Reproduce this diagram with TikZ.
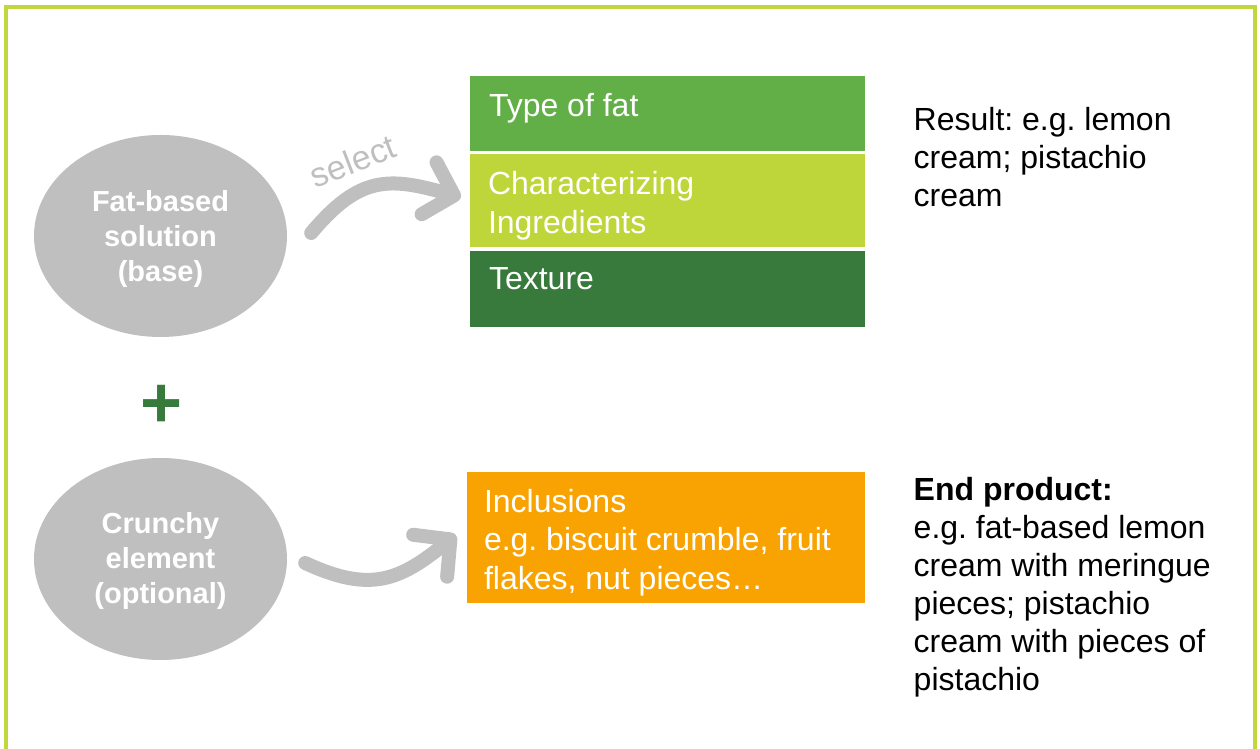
\documentclass[tikz,border=0pt]{standalone}
\usepackage{fontspec}
\setmainfont{Liberation Sans}
\frenchspacing
\usetikzlibrary{arrows.meta,positioning,shapes.geometric}

\definecolor{framegreen}{HTML}{C2D63E}
\definecolor{fatgreen}{HTML}{62AE47}
\definecolor{limegreen}{HTML}{BED63A}
\definecolor{darkgreen}{HTML}{377A3C}
\definecolor{incorange}{HTML}{F8A302}
\definecolor{softgrey}{HTML}{BFBFBF}

\tikzset{
  blob/.style={ellipse, fill=softgrey, minimum width=253pt, minimum height=202pt, inner sep=0pt},
  blobtext/.style={inner sep=0pt, text=white, align=center, font=\fontsize{29}{35}\selectfont\bfseries},
  bar/.style={rectangle, minimum width=395pt, inner sep=0pt},
  bartext/.style={anchor=north west, inner sep=0pt, text=white, align=left,
    font=\fontsize{32}{38.5}\selectfont},
  note/.style={anchor=north west, inner sep=0pt, align=left, font=\fontsize{32}{38}\selectfont},
  flow/.style={draw=softgrey, line width=14pt, line cap=round,
    -{Straight Barb[length=26pt,width=54pt,round]}},
}

\begin{document}
\begin{tikzpicture}[x=1pt,y=1pt]
  \useasboundingbox (0,0) rectangle (1260,749);
  \draw[framegreen, line width=4pt] (6,-20) rectangle (1255,742);

  % left: base and optional element
  \node[blob] (fat) at (160.5,513) {};
  \node[blob] (crunch) at (160.5,190) {};
  \node[blobtext] (fatlbl) at ([yshift=-3]fat) {Fat-based\\solution\\(base)};
  \node[blobtext] (crunchlbl) at ([yshift=-2]crunch) {Crunchy\\element\\(optional)};
  \node[text=darkgreen, font=\fontsize{72}{72}\selectfont\bfseries] (plus) at (162,343) {+};

  % middle: stacked bars
  \node[bar, fill=fatgreen, minimum height=75pt] (type) at (667.5,635.5) {};
  \node[bar, fill=limegreen, minimum height=93pt, below=3pt of type] (char) {};
  \node[bar, fill=darkgreen, minimum height=76pt, below=3pt of char] (tex) {};
  \node[bar, fill=incorange, minimum width=398pt, minimum height=131pt] (incl) at (666,211.5) {};

  \node[bartext] (typelbl) at ([shift={(19,-17)}]type.north west) {Type of fat};
  \node[bartext] (charlbl) at ([shift={(18,-17)}]char.north west) {Characterizing\\Ingredients};
  \node[bartext] (texlbl) at ([shift={(19,-17)}]tex.north west) {Texture};
  \node[bartext] (incllbl) at ([shift={(17,-17)}]incl.north west)
    {Inclusions\\e.g. biscuit crumble, fruit\\flakes, nut pieces…};

  % right: results
  \node[note] (result) at (913.5,642) {Result: e.g. lemon\\cream; pistachio\\cream};
  \node[note] (endprod) at (913.5,272) {\textbf{End product:}\\e.g. fat-based lemon\\cream with meringue\\pieces; pistachio\\cream with pieces of\\pistachio};

  % arrows
  \node[text=softgrey, rotate=21, font=\fontsize{34}{34}\selectfont] (sel) at (353,588) {select};
  \draw[flow] ([shift={(24,3)}]fat.east) to[out=50,in=164,looseness=1.25] ([shift={(-9,3.5)}]char.west);
  \draw[flow] ([shift={(18,-4)}]crunch.east) to[out=-25,in=219,looseness=1.2] ([shift={(-11,2.5)}]incl.west);
\end{tikzpicture}
\end{document}
